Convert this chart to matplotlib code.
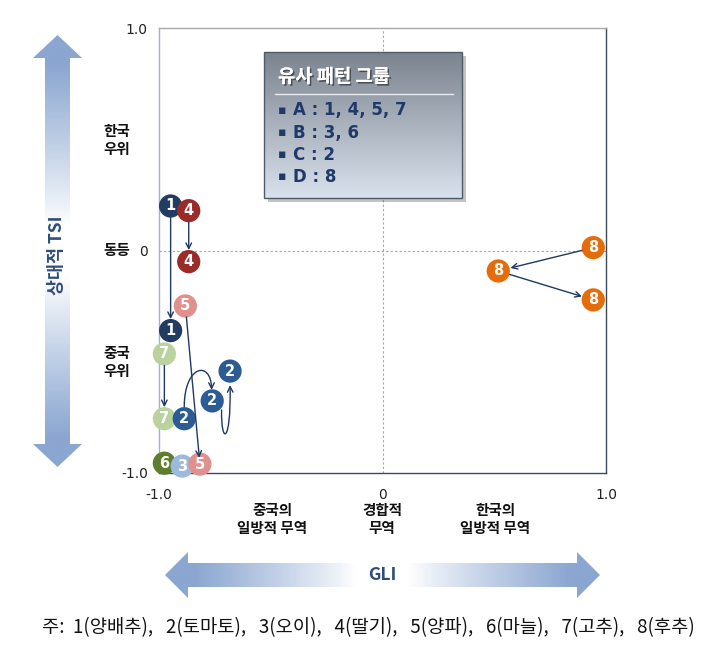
import numpy as np
import matplotlib
matplotlib.use("Agg")
import matplotlib.pyplot as plt
from matplotlib.patches import Polygon, Rectangle, FancyArrowPatch
from matplotlib.path import Path
from matplotlib.colors import LinearSegmentedColormap
import matplotlib.patheffects as pe

plt.rcParams['font.family'] = ['Noto Sans CJK KR', 'DejaVu Sans']

# ---------------- data ----------------
crop_ids = ['1', '2', '3', '4', '5', '6', '7', '8']
crop_names = ['양배추', '토마토', '오이', '딸기', '양파', '마늘', '고추', '후추']
crop_colors = ['#213B62', '#2D5C94', '#9DB9DE', '#9A2B27',
               '#E0918D', '#5E7E2E', '#BAD39E', '#E46C0A']
# GLI (x) and relative TSI (y), in time order for each crop
gli_1 = [-0.948, -0.948]
tsi_1 = [0.200, -0.360]
gli_2 = [-0.887, -0.762, -0.682]
tsi_2 = [-0.756, -0.676, -0.542]
gli_3 = [-0.896]
tsi_3 = [-0.969]
gli_4 = [-0.867, -0.867]
tsi_4 = [0.179, -0.050]
gli_5 = [-0.882, -0.817]
tsi_5 = [-0.249, -0.960]
gli_6 = [-0.976]
tsi_6 = [-0.956]
gli_7 = [-0.976, -0.976]
tsi_7 = [-0.465, -0.756]
gli_8 = [0.943, 0.518, 0.943]
tsi_8 = [0.013, -0.092, -0.222]

gli = dict(zip(crop_ids, [gli_1, gli_2, gli_3, gli_4, gli_5, gli_6, gli_7, gli_8]))
tsi = dict(zip(crop_ids, [tsi_1, tsi_2, tsi_3, tsi_4, tsi_5, tsi_6, tsi_7, tsi_8]))
colors = dict(zip(crop_ids, crop_colors))

tick_vals = [-1.0, 0.0, 1.0]
tick_labels = ['-1.0', '0', '1.0']
y_side_labels = ['한국\n우위', '동등', '중국\n우위']
x_side_labels = ['중국의\n일방적 무역', '경합적\n무역', '한국의\n일방적 무역']
legend_title = '유사 패턴 그룹'
legend_items = ['A : 1, 4, 5, 7', 'B : 3, 6', 'C : 2', 'D : 8']
footnote = '주:  ' + ',   '.join(f'{i}({n})' for i, n in zip(crop_ids, crop_names))

# ---------------- figure ----------------
W, H = 727, 653
fig = plt.figure(figsize=(W / 100, H / 100), dpi=100)
L, R, T, B = 159, 606, 28, 473
ax = fig.add_axes([L / W, 1 - B / H, (R - L) / W, (B - T) / H])
ax.set_xlim(-1, 1)
ax.set_ylim(-1, 1)
ax.set_xticks(tick_vals)
ax.set_xticklabels(tick_labels)
ax.set_yticks(tick_vals)
ax.set_yticklabels(tick_labels)
ax.tick_params(length=0, labelsize=10, colors='#222222')
ax.tick_params(axis='x', pad=11)
ax.tick_params(axis='y', pad=8)
for lab in ax.get_xticklabels() + ax.get_yticklabels():
    lab.set_family('DejaVu Sans')
ax.spines['left'].set_color('#9FB1C7')
ax.spines['top'].set_color('#A8A8A8')
ax.spines['right'].set_color('#3B4A5C')
ax.spines['bottom'].set_color('#3B4A5C')
for s in ax.spines.values():
    s.set_linewidth(1.0)
ax.axhline(0, color='#95A6BD', lw=0.8, ls=(0, (2, 2)), zorder=1)
ax.axvline(0, color='#95A6BD', lw=0.8, ls=(0, (2, 2)), zorder=1)

# markers
draw_order = ['1', '7', '6', '3', '4', '2', '5', '8']
z = 3
for c in draw_order:
    for x, y in zip(gli[c], tsi[c]):
        ax.scatter([x], [y], s=280, color=colors[c], edgecolor='none',
                   zorder=z, clip_on=False)
        ax.text(x, y, c, color='white', fontsize=10.5, fontweight='bold',
                ha='center', va='center', zorder=z + 0.5,
                family='DejaVu Sans')
        z += 1

arrow_color = '#1F3864'
az = 100
def straight(c, i, sa=8.3, sb=8.3):
    ax.annotate('', xy=(gli[c][i + 1], tsi[c][i + 1]),
                xytext=(gli[c][i], tsi[c][i]),
                arrowprops=dict(arrowstyle='->', color=arrow_color, lw=1.0,
                                shrinkA=sa, shrinkB=sb, mutation_scale=10),
                zorder=az)

straight('1', 0)
straight('4', 0)
straight('5', 0, 8.0, 4.5)
straight('7', 0)
straight('8', 0, 8.5, 9.0)
straight('8', 1, 8.5, 8.5)

# curved arrows for crop 2 (offsets in pixels converted to data units)
ux, uy = 2 / (R - L), 2 / (B - T)
def px(c, i, dx, dy):
    return (gli[c][i] + dx * ux, tsi[c][i] + dy * uy)

codes = [Path.MOVETO, Path.CURVE4, Path.CURVE4, Path.CURVE4]
curveA = Path([px('2', 0, 0, 12), px('2', 0, 0, 54), px('2', 1, -1, 41), px('2', 1, -0.6, 11)], codes)
curveB = Path([px('2', 1, 9.4, -9), px('2', 1, 8.7, -44), px('2', 2, 1, -74), px('2', 2, 0, -14)], codes)
for pth in (curveA, curveB):
    ax.add_patch(FancyArrowPatch(path=pth, arrowstyle='->', color=arrow_color,
                                 lw=1.0, mutation_scale=10, zorder=az))

# ---------------- overlay (pixel coordinates) ----------------
ov = fig.add_axes([0, 0, 1, 1])
ov.patch.set_alpha(0)
ov.axis('off')

cmap = LinearSegmentedColormap.from_list('bw', ['white', '#8AA6D1'])

def gradient_arrow(vertical, c0, tip0, tip1, shaft_h, head_h, head_len):
    if vertical:
        verts = [(c0, tip0), (c0 + head_h, tip0 + head_len), (c0 + shaft_h, tip0 + head_len),
                 (c0 + shaft_h, tip1 - head_len), (c0 + head_h, tip1 - head_len), (c0, tip1),
                 (c0 - head_h, tip1 - head_len), (c0 - shaft_h, tip1 - head_len),
                 (c0 - shaft_h, tip0 + head_len), (c0 - head_h, tip0 + head_len)]
    else:
        verts = [(tip0, c0), (tip0 + head_len, c0 - head_h), (tip0 + head_len, c0 - shaft_h),
                 (tip1 - head_len, c0 - shaft_h), (tip1 - head_len, c0 - head_h), (tip1, c0),
                 (tip1 - head_len, c0 + head_h), (tip1 - head_len, c0 + shaft_h),
                 (tip0 + head_len, c0 + shaft_h), (tip0 + head_len, c0 + head_h)]
    poly = Polygon(verts, closed=True, facecolor='none', edgecolor='none')
    ov.add_patch(poly)
    t = np.linspace(-1, 1, 400)
    g = np.clip((np.abs(t) - 0.12) / 0.75, 0, 1) ** 0.9
    if vertical:
        arr = g[:, None]
        ext = (c0 - head_h, c0 + head_h, tip1, tip0)
    else:
        arr = g[None, :]
        ext = (tip0, tip1, c0 + head_h, c0 - head_h)
    im = ov.imshow(arr, cmap=cmap, vmin=0, vmax=1, extent=ext, aspect='auto',
                   interpolation='bilinear')
    im.set_clip_path(poly)

gradient_arrow(True, 57.5, 35, 467, 12.5, 24.5, 23)
gradient_arrow(False, 575, 165, 600, 12, 23, 23)

ov.text(57.5, 255, '상대적 TSI', rotation=90, ha='center', va='center',
        fontsize=12.5, fontweight='bold', color='#2E4D7B')
ov.text(382, 575, 'GLI', ha='center', va='center',
        fontsize=12.5, fontweight='bold', color='#2E4D7B')

for lbl, yy in zip(y_side_labels, [140, 250, 362]):
    ov.text(117, yy, lbl, ha='center', va='center', fontsize=10.5,
            fontweight='bold', color='#111111', linespacing=1.15)
for lbl, xx in zip(x_side_labels, [272, 382, 495]):
    ov.text(xx, 519, lbl, ha='center', va='center', fontsize=10.5,
            fontweight='bold', color='#111111', linespacing=1.15)

# legend box
bx, by, bw, bh = 264, 52, 198, 146
ov.add_patch(Rectangle((bx + 4, by + 4), bw, bh, facecolor='#555555',
                       alpha=0.35, edgecolor='none'))
box = Rectangle((bx, by), bw, bh, facecolor='none', edgecolor='#4F5B66', lw=1.0, zorder=3)
ov.add_patch(box)
cmap_box = LinearSegmentedColormap.from_list('box', ['#7A838E', '#D8E1EC'])
gv = np.linspace(0, 1, 200)[:, None]
imb = ov.imshow(gv, cmap=cmap_box, extent=(bx, bx + bw, by + bh, by), aspect='auto',
                origin='upper', interpolation='bilinear', zorder=2)
imb.set_clip_path(box)
ov.text(bx + 14, 77, legend_title, ha='left', va='center', fontsize=13.5,
        fontweight='bold', color='white', zorder=4,
        path_effects=[pe.withSimplePatchShadow(offset=(1.2, -1.2), shadow_rgbFace='#333333', alpha=0.7), pe.Normal()])
ov.plot([bx + 11, bx + bw - 9], [94, 94], color='#E8EDF3', lw=1.0, zorder=4)
for item, yy in zip(legend_items, [110, 133, 155, 177]):
    ov.text(bx + 14, yy, '▪', ha='left', va='center', fontsize=9, color='#1F3A6A', zorder=4,
            family=['DejaVu Sans'])
    ov.text(bx + 29, yy, item, ha='left', va='center', fontsize=12, fontweight='bold',
            color='#1F3A6A', zorder=4, family=['DejaVu Sans'])

ov.text(368, 628, footnote, ha='center', va='center', fontsize=13.5, color='#111111')

ov.set_xlim(0, W)
ov.set_ylim(H, 0)

fig.savefig('out.png', dpi=100)
